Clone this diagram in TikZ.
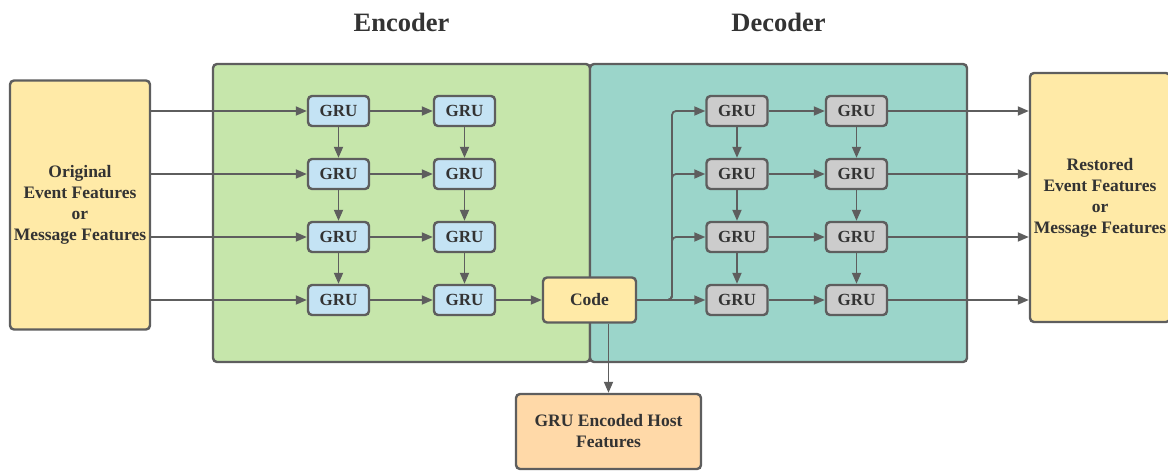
\documentclass[tikz,border=0pt]{standalone}
\usepackage{fontspec}
\setmainfont{Liberation Serif}
\usetikzlibrary{arrows.meta,calc}
\definecolor{edge}{HTML}{5E5E5E}
\definecolor{ink}{HTML}{333333}
\definecolor{featfill}{HTML}{FFEAA7}
\definecolor{encfill}{HTML}{C6E6AB}
\definecolor{decfill}{HTML}{9BD5CA}
\definecolor{encgru}{HTML}{C4E3F4}
\definecolor{decgru}{HTML}{CCCCCC}
\definecolor{hostfill}{HTML}{FFD9A8}
\tikzset{
  panel/.style={draw=edge, line width=2.4pt, rounded corners=4pt},
  box/.style={draw=edge, line width=2.4pt, rounded corners=4pt, text=ink,
    font=\bfseries\fontsize{17.5}{21}\selectfont, align=center, inner sep=0pt},
  grubox/.style={box, minimum width=61pt, minimum height=30pt,
    font=\bfseries\fontsize{17}{19}\selectfont},
  encunit/.style={grubox, fill=encgru},
  decunit/.style={grubox, fill=decgru},
  title/.style={text=ink, font=\bfseries\fontsize{26.5}{30}\selectfont},
  arr/.style={draw=edge, line width=1.8pt, -{Triangle[length=11pt,width=9pt]}},
  link/.style={draw=edge, line width=1.8pt}
}
\begin{document}
\begin{tikzpicture}[x=1pt,y=-1pt]
\useasboundingbox (0,0) rectangle (1168,472);
\clip (0,0) rectangle (1168,472);

% encoder / decoder panels
\draw[panel, fill=encfill] (213,64) rectangle (590,362);
\draw[panel, fill=decfill] (590,64) rectangle (967,362);
\node[title] (enctitle) at (401.5,22) {Encoder};
\node[title] (dectitle) at (778.5,22) {Decoder};

% input and output feature blocks
\node[box, fill=featfill, minimum width=140pt, minimum height=249pt] (in) at (80,205)
  {Original\\Event Features\\or\\Message Features};
\node[box, fill=featfill, minimum width=140pt, minimum height=249pt] (out) at (1100,197.5)
  {Restored\\Event Features\\or\\Message Features};

% encoder and decoder GRU grids
\foreach \r/\y in {1/111,2/174,3/237,4/300}{
  \node[encunit] (e\r1) at (338.5,\y) {GRU};
  \node[encunit] (e\r2) at (464.5,\y) {GRU};
  \node[decunit] (d\r1) at (737,\y) {GRU};
  \node[decunit] (d\r2) at (856.5,\y) {GRU};
}

% code and host feature blocks
\node[box, fill=featfill, minimum width=93pt, minimum height=45pt] (code) at (589.5,300) {Code};
\node[box, fill=hostfill, minimum width=185pt, minimum height=75pt] (host) at (608.5,431.5)
  {GRU Encoded Host\\Features};

% row-wise connections
\foreach \r in {1,2,3,4}{
  \draw[arr] (in.east |- e\r1) -- (e\r1);
  \draw[arr] (e\r1) -- (e\r2);
  \draw[arr] (d\r1) -- (d\r2);
  \draw[arr] (d\r2) -- (out.west |- d\r2);
}
% column-wise connections
\foreach \a/\b in {1/2,2/3,3/4}{
  \draw[arr] (e\a1) -- (e\b1);
  \draw[arr] (e\a2) -- (e\b2);
  \draw[arr] (d\a1) -- (d\b1);
  \draw[arr] (d\a2) -- (d\b2);
}
\draw[arr] (e42) -- (code);

% code fans out into the decoder
\coordinate (split) at (672,300);
\draw[arr] (code) -- (d41);
\foreach \r in {1,2,3}{
  \draw[arr, rounded corners=4pt] (code.east) -- (split) |- (d\r1.west);
}
\draw[arr] (code.south -| host.north) -- (host.north);
\end{tikzpicture}
\end{document}
